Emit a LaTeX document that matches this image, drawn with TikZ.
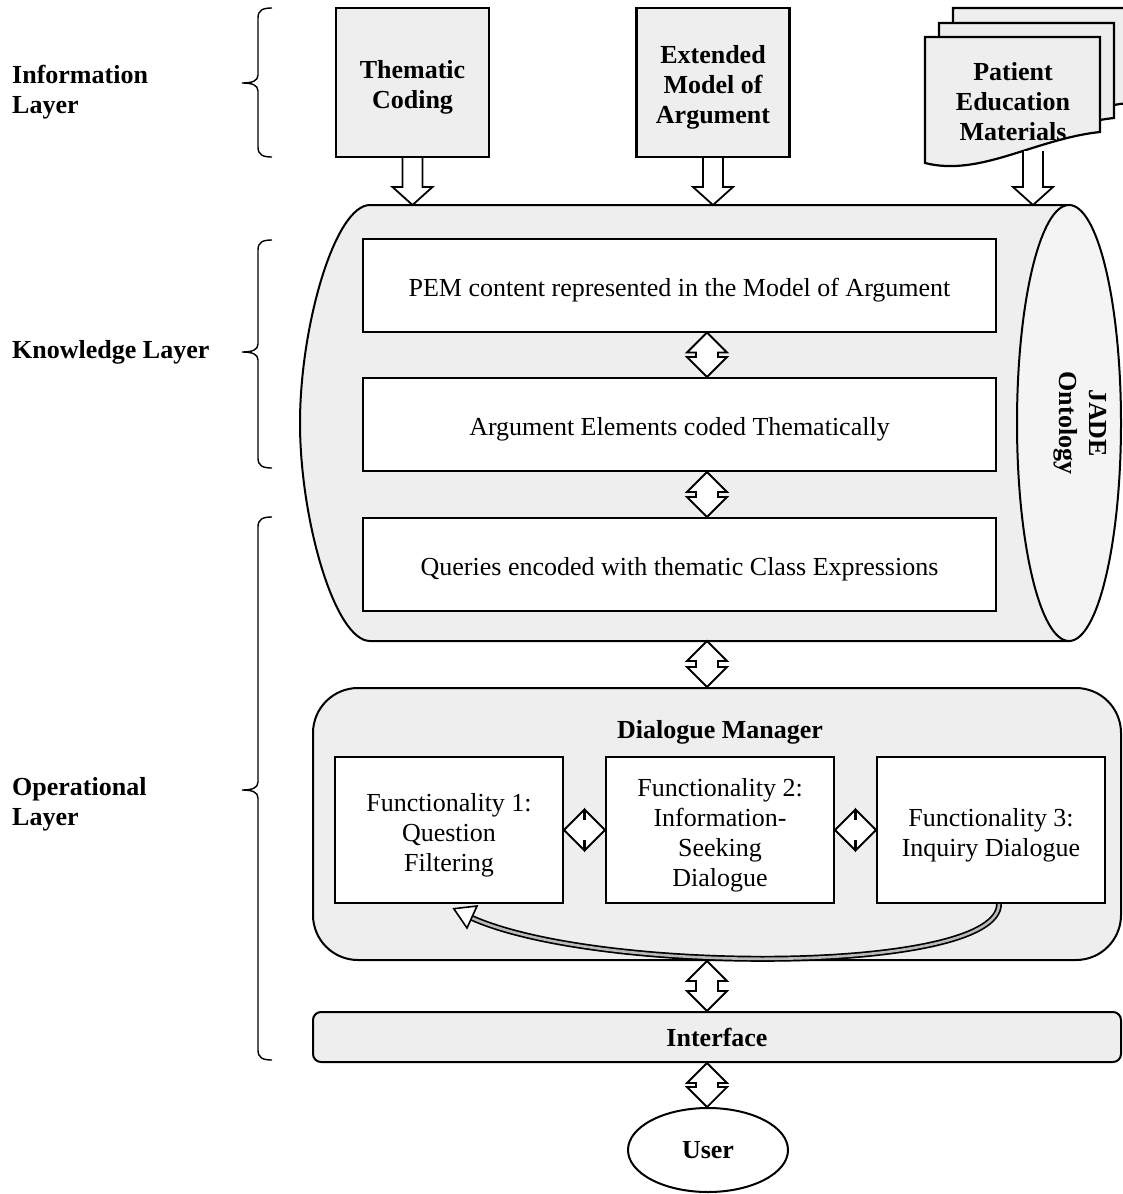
\documentclass[tikz,border=0pt]{standalone}
\usepackage{fontspec}
\setmainfont{Liberation Serif}
\usetikzlibrary{calc,shapes.geometric}
\definecolor{panel}{HTML}{EEEEEE}
\definecolor{face}{HTML}{F4F4F4}
\newcommand{\txt}{\fontsize{26}{30}\selectfont}
% taller first line, so the text sits a little lower in its box
\newcommand{\lowr}{\rule{0pt}{28pt}}

% vertical double block arrow between two points (upper, lower)
\newcommand{\vdarr}[2]{\filldraw[arr] let \p1=(#1), \p2=(#2) in
  (\x1,\y1) -- (\x1-20pt,\y1-20pt) -- (\x1-11pt,\y1-20pt) -- (\x1-11pt,\y2+20pt)
  -- (\x1-20pt,\y2+20pt) -- (\x1,\y2) -- (\x1+20pt,\y2+20pt) -- (\x1+11pt,\y2+20pt)
  -- (\x1+11pt,\y1-20pt) -- (\x1+20pt,\y1-20pt) -- cycle;}
% horizontal double block arrow between two points (left, right)
\newcommand{\hdarr}[2]{\filldraw[arr] let \p1=(#1), \p2=(#2) in
  (\x1,\y1) -- (\x1+20pt,\y1+20pt) -- (\x1+20pt,\y1+11pt) -- (\x2-20pt,\y1+11pt)
  -- (\x2-20pt,\y1+20pt) -- (\x2,\y1) -- (\x2-20pt,\y1-20pt) -- (\x2-20pt,\y1-11pt)
  -- (\x1+20pt,\y1-11pt) -- (\x1+20pt,\y1-20pt) -- cycle;}
% single downward block arrow
\newcommand{\downarr}[2]{\filldraw[arr] let \p1=(#1), \p2=(#2) in
  (\x1-10pt,\y1) -- (\x1-10pt,\y2+18pt) -- (\x1-20pt,\y2+18pt) -- (\x1,\y2)
  -- (\x1+20pt,\y2+18pt) -- (\x1+10pt,\y2+18pt) -- (\x1+10pt,\y1);}
% curly brace of a layer: top, tip, bottom
\newcommand{\layerbrace}[3]{\draw[bracestyle] (272,#1) .. controls (263,#1) and (258,#1+2) .. (258,#1+10)
  -- (258,#2-8) .. controls (258,#2-2) and (252,#2) .. (242,#2)
  .. controls (252,#2) and (258,#2+2) .. (258,#2+8)
  -- (258,#3-10) .. controls (258,#3-2) and (263,#3) .. (272,#3);}
% paper sheet with a wavy lower edge
\newcommand{\sheet}[2]{\filldraw[sheetstyle] (#1,#2) -- (#1+175,#2) -- (#1+175,#2+95)
  .. controls (#1+110,#2+102) and (#1+55,#2+140) .. (#1,#2+126) -- cycle;}

\tikzset{
  arr/.style={draw=black, fill=white, line width=1.8pt, line join=miter},
  box/.style={draw, line width=2pt, fill=white, align=center, inner sep=0pt, font=\txt},
  srcbox/.style={box, fill=panel, line width=2.2pt, font=\txt\bfseries, minimum width=153, minimum height=149},
  rowbox/.style={box, minimum width=633, minimum height=93},
  fbox/.style={box, minimum width=228, minimum height=146},
  sheetstyle/.style={draw, fill=panel, line width=2.2pt, line join=miter},
  bracestyle/.style={line width=1.4pt},
  layer/.style={anchor=west, align=left, font=\txt\bfseries, inner sep=0pt},
}

\begin{document}
\begin{tikzpicture}[x=1pt, y=-1pt]
\useasboundingbox (0,0) rectangle (1123,1194);
\fill[white] (0,0) rectangle (1123,1194);

\coordinate (ax) at (707,0);
\coordinate (cyltop) at (0,205);
\coordinate (cylbot) at (0,641);

% layer labels and braces
\node[layer] (infol) at (12,92) {Information\\Layer};
\node[layer] (knowl) at (12,352) {Knowledge Layer};
\node[layer] (operl) at (12,804) {Operational\\Layer};
\layerbrace{8}{83}{157}
\layerbrace{240}{352}{468}
\layerbrace{517}{790}{1060}

% information sources
\node[srcbox] (tc) at (412.5,82.5) {\lowr Thematic\\Coding};
\node[srcbox] (ema) at (713,82.5) {\lowr Extended\\Model of\\Argument};
\sheet{953}{8}
\sheet{939}{23}
\sheet{925}{37}
\node[font=\txt\bfseries, align=center] (pem) at (1013,102) {Patient\\Education\\Materials};
\coordinate (pemout) at (1033,151);

% knowledge base cylinder
\filldraw[fill=panel, line width=2pt] (370,205) -- (1069,205) -- (1069,641) -- (370,641)
  .. controls (335,641) and (300,520) .. (300,423)
  .. controls (300,326) and (335,205) .. (370,205) -- cycle;
\node[draw, ellipse, fill=face, line width=2pt, minimum width=104, minimum height=436, inner sep=0pt] (jade) at (1069,423) {};
\node[rotate=-90, font=\txt\bfseries, align=center] (jadet) at (1080,423) {JADE\\Ontology};

\node[rowbox] (r1) at (679.5,285) {\lowr PEM content represented in the Model of Argument};
\node[rowbox] (r2) at (679.5,424.5) {\lowr Argument Elements coded Thematically};
\node[rowbox] (r3) at (679.5,564.5) {\lowr Queries encoded with thematic Class Expressions};

% inputs into the knowledge base
\downarr{tc.south}{tc.south |- cyltop}
\downarr{ema.south}{ema.south |- cyltop}
\downarr{pemout}{pemout |- cyltop}

\vdarr{ax |- r1.south}{ax |- r2.north}
\vdarr{ax |- r2.south}{ax |- r3.north}

% dialogue manager
\node[draw, fill=panel, line width=2pt, rounded corners=45pt, minimum width=808, minimum height=272] (dm) at (717,824) {};
\node[font=\txt\bfseries] (dmt) at (720,732) {Dialogue Manager};
\node[fbox] (f1) at (449,830) {\lowr Functionality 1:\\Question\\Filtering};
\node[fbox] (f2) at (720,830) {\lowr Functionality 2:\\Information-\\Seeking\\Dialogue};
\node[fbox] (f3) at (991,830) {\lowr Functionality 3:\\Inquiry Dialogue};
\hdarr{f1.east}{f2.west}
\hdarr{f2.east}{f3.west}

% feedback from functionality 3 back to functionality 1
\coordinate (fbstart) at ($(f3.south)+(8,0)$);
\coordinate (fbend) at ($(f1.south)+(23,14)$);
\draw[line width=6pt] (fbstart) .. controls +(0,70) and (600,975) .. (fbend);
\draw[line width=2.6pt, gray!55] (fbstart) .. controls +(0,70) and (600,975) .. (fbend);
\filldraw[fill=white, line width=1.6pt, line join=miter] (453.8,908.7) -- (477,906) -- (467,928) -- cycle;

\vdarr{ax |- cylbot}{ax |- dm.north}

% interface and user
\node[draw, fill=panel, line width=2pt, rounded corners=8pt, minimum width=808, minimum height=50, font=\txt\bfseries] (intf) at (717,1037) {Interface};
\node[draw, ellipse, line width=2pt, minimum width=160, minimum height=84, font=\txt\bfseries] (user) at (708,1150) {User};
\vdarr{ax |- dm.south}{ax |- intf.north}
\vdarr{ax |- intf.south}{ax |- user.north}
\end{tikzpicture}
\end{document}
